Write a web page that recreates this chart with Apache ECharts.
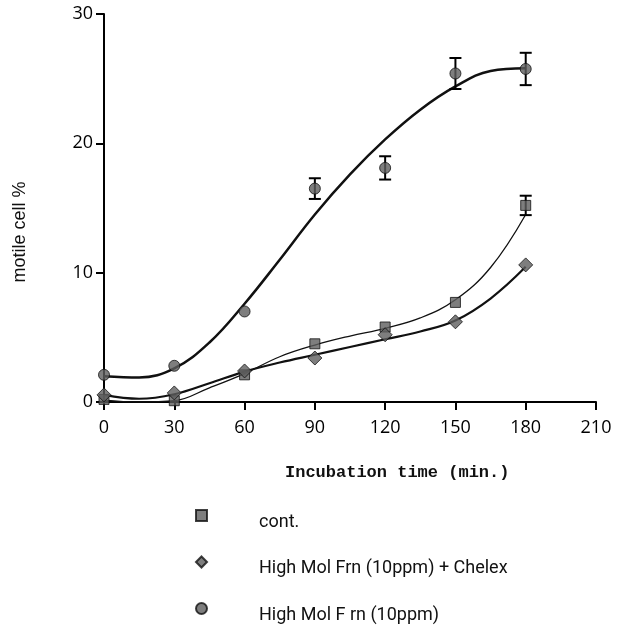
<!DOCTYPE html>
<html><head><meta charset="utf-8">
<script src="https://cdn.jsdelivr.net/npm/echarts@6/dist/echarts.min.js"></script>
<style>html,body{margin:0;padding:0;background:#fff}#c{width:632px;height:625px}</style>
</head><body><div id="c"></div>
<script>
const times = [0, 30, 60, 90, 120, 150, 180];
const contVals = [0.2, 0.1, 2.1, 4.5, 5.8, 7.7, 15.2];
const contErr = [0, 0, 0, 0, 0, 0, 0.75];
const chelexVals = [0.55, 0.7, 2.4, 3.4, 5.2, 6.2, 10.6];
const frnVals = [2.1, 2.8, 7.0, 16.5, 18.1, 25.4, 25.75];
const frnErr = [0, 0, 0, 0.8, 0.9, 1.2, 1.25];

// Fitted curves at 15-min steps
const fitTimes = [0, 15, 30, 45, 60, 75, 90, 105, 120, 135, 150, 165, 180];
const contFit = [0.15, 0.0, 0.1, 1.1, 2.2, 3.5, 4.4, 5.1, 5.7, 6.5, 7.9, 10.4, 14.5];
const chelexFit = [0.55, 0.25, 0.6, 1.45, 2.35, 3.05, 3.65, 4.25, 4.85, 5.45, 6.3, 8.0, 10.45];
const frnFit = [2.0, 1.9, 2.6, 4.6, 7.6, 11.0, 14.5, 17.6, 20.3, 22.6, 24.4, 25.6, 25.8];

const seriesNames = ['cont.', 'High Mol Frn (10ppm) + Chelex', 'High Mol F rn (10ppm)'];
const xTitle = 'Incubation time (min.)';
const yTitle = 'motile cell %';

const pts = (xs, ys) => xs.map((x, i) => [x, ys[i]]);
const errData = (vals, errs) => times.map((t, i) => [t, vals[i] - errs[i], vals[i] + errs[i]]).filter((d, i) => errs[i] > 0);

function errRender(params, api) {
  const x = api.value(0);
  const lo = api.coord([x, api.value(1)]);
  const hi = api.coord([x, api.value(2)]);
  const hw = 6;
  const st = { stroke: '#000', lineWidth: 2 };
  return { type: 'group', children: [
    { type: 'line', shape: { x1: lo[0], y1: lo[1], x2: hi[0], y2: hi[1] }, style: st },
    { type: 'line', shape: { x1: lo[0] - hw, y1: lo[1], x2: lo[0] + hw, y2: lo[1] }, style: st },
    { type: 'line', shape: { x1: hi[0] - hw, y1: hi[1], x2: hi[0] + hw, y2: hi[1] }, style: st }
  ]};
}

const markerStyle = { color: '#5e5e5e', borderColor: '#111', borderWidth: 1 };
const tickFont = { fontFamily: 'Open Sans', fontSize: 18, color: '#000' };

const chart = echarts.init(document.getElementById('c'), null, { renderer: 'canvas' });
chart.setOption({
  animation: false,
  backgroundColor: '#fff',
  grid: { left: 104, right: 36, top: 14, bottom: 223 },
  xAxis: {
    type: 'value', min: 0, max: 210, interval: 30,
    axisLine: { lineStyle: { color: '#000', width: 2 } },
    axisTick: { length: 8, lineStyle: { color: '#000', width: 2 } },
    axisLabel: Object.assign({ margin: 17 }, tickFont),
    splitLine: { show: false }
  },
  yAxis: {
    type: 'value', min: 0, max: 30, interval: 10,
    axisLine: { show: true, lineStyle: { color: '#000', width: 2 } },
    axisTick: { show: true, length: 8, lineStyle: { color: '#000', width: 2 } },
    axisLabel: Object.assign({ margin: 11 }, tickFont),
    splitLine: { show: false }
  },
  legend: {
    orient: 'vertical', left: 195, top: 509, height: 160, padding: 0, itemGap: 24.5,
    itemWidth: 11, itemHeight: 11,
    data: seriesNames,
    formatter: '{t|{name}}',
    textStyle: {
      fontFamily: 'Roboto', fontSize: 18, color: '#111',
      rich: { t: { fontFamily: 'Roboto', fontSize: 18, color: '#111', padding: [13, 0, 0, 47] } }
    }
  },
  graphic: [
    { type: 'text', left: 285, top: 464, style: { text: xTitle, font: 'bold 17px "Liberation Mono"', fill: '#111' } },
    { type: 'text', x: 20, y: 232, rotation: Math.PI / 2, style: { text: yTitle, font: '18px "Liberation Sans"', fill: '#111', align: 'center', verticalAlign: 'middle' } }
  ],
  series: [
    { type: 'line', data: pts(fitTimes, contFit), smooth: 0.4, showSymbol: false, lineStyle: { color: '#111', width: 1.3 }, z: 2, silent: true },
    { type: 'line', data: pts(fitTimes, chelexFit), smooth: 0.4, showSymbol: false, lineStyle: { color: '#111', width: 2.2 }, z: 2, silent: true },
    { type: 'line', data: pts(fitTimes, frnFit), smooth: 0.4, showSymbol: false, lineStyle: { color: '#111', width: 2.5 }, z: 2, silent: true },
    { type: 'custom', renderItem: errRender, data: errData(contVals, contErr), z: 3, silent: true },
    { type: 'custom', renderItem: errRender, data: errData(frnVals, frnErr), z: 3, silent: true },
    { name: seriesNames[0], type: 'scatter', data: pts(times, contVals), symbol: 'rect', symbolSize: 10, itemStyle: markerStyle, z: 4 },
    { name: seriesNames[1], type: 'scatter', data: pts(times, chelexVals), symbol: 'diamond', symbolSize: 14, itemStyle: markerStyle, z: 4 },
    { name: seriesNames[2], type: 'scatter', data: pts(times, frnVals), symbol: 'circle', symbolSize: 11, itemStyle: markerStyle, z: 5 }
  ]
});
</script></body></html>
